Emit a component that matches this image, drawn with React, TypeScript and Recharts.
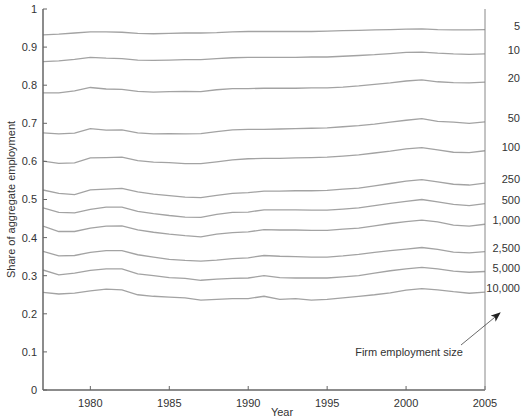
import { LineChart, Line, XAxis, YAxis, LabelList } from "recharts"

// employment share below each firm-size cutoff, 1977–2005
const years = Array.from({ length: 29 }, (_, i) => 1977 + i)

const sizeLabels = ["5", "10", "20", "50", "100", "250", "500", "1,000", "2,500", "5,000", "10,000"]

const s5 = [0.932, 0.934, 0.937, 0.94, 0.94, 0.939, 0.936, 0.935, 0.936, 0.937, 0.937, 0.938, 0.94, 0.941, 0.941, 0.941, 0.941, 0.941, 0.942, 0.943, 0.944, 0.945, 0.946, 0.947, 0.948, 0.946, 0.945, 0.945, 0.946]
const s10 = [0.862, 0.864, 0.868, 0.873, 0.871, 0.87, 0.866, 0.865, 0.866, 0.867, 0.867, 0.87, 0.872, 0.873, 0.873, 0.873, 0.873, 0.874, 0.874, 0.876, 0.878, 0.88, 0.883, 0.886, 0.887, 0.884, 0.882, 0.881, 0.882]
const s20 = [0.78, 0.78, 0.785, 0.794, 0.79, 0.789, 0.784, 0.782, 0.783, 0.784, 0.783, 0.788, 0.791, 0.791, 0.792, 0.792, 0.792, 0.793, 0.793, 0.795, 0.798, 0.802, 0.806, 0.811, 0.814, 0.809, 0.807, 0.806, 0.808]
const s50 = [0.675, 0.672, 0.674, 0.686, 0.682, 0.683, 0.675, 0.672, 0.673, 0.672, 0.673, 0.678, 0.683, 0.684, 0.684, 0.685, 0.686, 0.687, 0.688, 0.691, 0.694, 0.698, 0.703, 0.708, 0.712, 0.705, 0.703, 0.7, 0.704]
const s100 = [0.601, 0.595, 0.596, 0.609, 0.61, 0.611, 0.602, 0.598, 0.597, 0.594, 0.594, 0.599, 0.604, 0.607, 0.608, 0.608, 0.609, 0.61, 0.611, 0.614, 0.617, 0.622, 0.627, 0.633, 0.636, 0.63, 0.624, 0.623, 0.628]
const s250 = [0.525, 0.516, 0.513, 0.525, 0.527, 0.529, 0.52, 0.514, 0.51, 0.506, 0.505, 0.511, 0.516, 0.518, 0.522, 0.522, 0.523, 0.523, 0.524, 0.527, 0.53, 0.536, 0.542, 0.548, 0.552, 0.546, 0.54, 0.538, 0.543]
const s500 = [0.478, 0.466, 0.465, 0.474, 0.48, 0.48, 0.469, 0.463, 0.458, 0.454, 0.453, 0.461, 0.466, 0.467, 0.473, 0.473, 0.473, 0.472, 0.472, 0.475, 0.478, 0.484, 0.49, 0.495, 0.5, 0.494, 0.487, 0.484, 0.489]
const s1000 = [0.43, 0.416, 0.416, 0.425, 0.43, 0.431, 0.42, 0.414, 0.409, 0.405, 0.402, 0.409, 0.413, 0.415, 0.421, 0.42, 0.42, 0.419, 0.419, 0.422, 0.425, 0.431, 0.437, 0.442, 0.446, 0.441, 0.433, 0.43, 0.435]
const s2500 = [0.364, 0.352, 0.353, 0.361, 0.366, 0.366, 0.355, 0.349, 0.343, 0.34, 0.338, 0.341, 0.345, 0.347, 0.353, 0.351, 0.35, 0.349, 0.349, 0.352, 0.356, 0.361, 0.366, 0.37, 0.374, 0.369, 0.362, 0.36, 0.363]
const s5000 = [0.315, 0.302, 0.307, 0.314, 0.318, 0.318, 0.305, 0.3, 0.295, 0.293, 0.288, 0.291, 0.293, 0.294, 0.3, 0.295, 0.294, 0.294, 0.294, 0.297, 0.3, 0.307, 0.313, 0.318, 0.322, 0.318, 0.312, 0.309, 0.311]
const s10000 = [0.256, 0.252, 0.254, 0.26, 0.265, 0.263, 0.25, 0.246, 0.244, 0.242, 0.236, 0.238, 0.24, 0.24, 0.246, 0.238, 0.24, 0.236, 0.238, 0.242, 0.246, 0.25, 0.255, 0.262, 0.266, 0.263, 0.258, 0.254, 0.257]

const yearTicks = [1980, 1985, 1990, 1995, 2000, 2005]
const shareTicks = [0, 0.1, 0.2, 0.3, 0.4, 0.5, 0.6, 0.7, 0.8, 0.9, 1]

const seriesList = [s5, s10, s20, s50, s100, s250, s500, s1000, s2500, s5000, s10000]

const data = years.map((year, i) => {
  const row: Record<string, number> = { year }
  seriesList.forEach((s, k) => {
    row["k" + k] = s[i]
  })
  return row
})

const FONT = "'Liberation Sans', Arial, sans-serif"
const TEXT = "#333"
const LINE = "#a3a3a3"
const tickStyle = { fontSize: 11, fontFamily: FONT, fill: TEXT }

function endLabel(text: string) {
  // eslint-disable-next-line @typescript-eslint/no-explicit-any
  return (props: any) => {
    if (props.index !== years.length - 1) return null
    return (
      <text
        x={Number(props.x) + 35}
        y={Number(props.y) - 4}
        textAnchor="end"
        dominantBaseline="central"
        fontSize={11}
        fontFamily={FONT}
        fill={TEXT}
      >
        {text}
      </text>
    )
  }
}

export default function App() {
  return (
    <div style={{ position: "absolute", left: 0, top: 0, width: 522, height: 420, background: "#fff" }}>
      <LineChart width={522} height={420} data={data} margin={{ top: 9, right: 0, bottom: 0, left: 0 }}>
        <XAxis
          dataKey="year"
          type="number"
          domain={[1977, 2005]}
          ticks={yearTicks}
          allowDataOverflow
          height={30}
          tickSize={-4}
          tickMargin={13}
          tick={tickStyle}
          axisLine={{ stroke: "#666", strokeWidth: 1.5 }}
          tickLine={{ stroke: "#666" }}
          label={{ value: "Year", position: "center", dx: 18, dy: 7, fontSize: 11, fontFamily: FONT, fill: TEXT }}
        />
        <XAxis
          xAxisId="top"
          orientation="top"
          dataKey="year"
          type="number"
          domain={[1977, 2005]}
          ticks={yearTicks}
          height={0}
          tickSize={-4}
          tickFormatter={() => ""}
          axisLine={{ stroke: "#888" }}
          tickLine={{ stroke: "#888" }}
        />
        <YAxis
          type="number"
          domain={[0, 1]}
          ticks={shareTicks}
          width={43}
          tickSize={-4}
          tickMargin={10}
          tick={tickStyle}
          tickFormatter={(v: number) => String(Math.round(v * 10) / 10)}
          axisLine={{ stroke: "#666", strokeWidth: 1.5 }}
          tickLine={{ stroke: "#666" }}
          label={{ value: "Share of aggregate employment", angle: -90, position: "center", dx: -10, fontSize: 11, fontFamily: FONT, fill: TEXT }}
        />
        <YAxis
          yAxisId="right"
          orientation="right"
          type="number"
          domain={[0, 1]}
          ticks={shareTicks}
          width={37}
          tickSize={-4}
          tickFormatter={() => ""}
          axisLine={{ stroke: "#888" }}
          tickLine={{ stroke: "#888" }}
        />
        {seriesList.map((_, k) => (
          <Line
            key={k}
            dataKey={"k" + k}
            stroke={LINE}
            strokeWidth={1.3}
            dot={false}
            isAnimationActive={false}
          >
            <LabelList dataKey={"k" + k} content={endLabel(sizeLabels[k])} />
          </Line>
        ))}
      </LineChart>
      <svg width={522} height={420} style={{ position: "absolute", left: 0, top: 0, pointerEvents: "none" }}>
        <defs>
          <marker id="arrowhead" markerWidth="10" markerHeight="8" refX="9" refY="4" orient="auto" markerUnits="userSpaceOnUse">
            <path d="M0,0 L10,4 L0,8 L2.5,4 Z" fill="#222" />
          </marker>
        </defs>
        <line x1={461} y1={345} x2={500} y2={313} stroke="#444" strokeWidth={0.8} markerEnd="url(#arrowhead)" />
        <text x={409} y={352} textAnchor="middle" dominantBaseline="central" fontSize={11} fontFamily={FONT} fill={TEXT}>
          Firm employment size
        </text>
      </svg>
    </div>
  )
}
